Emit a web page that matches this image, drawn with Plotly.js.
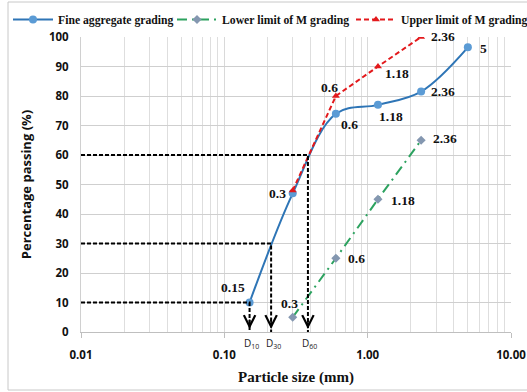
<!DOCTYPE html>
<html>
<head>
<meta charset="utf-8">
<script src="https://cdn.plot.ly/plotly-3.0.1.min.js"></script>
<style>html,body{margin:0;padding:0;background:#fff;}#chart{width:527px;height:392px;}</style>
</head>
<body>
<div id="chart"></div>
<script>
// ---- data ----
const fineSizes = [0.15, 0.3, 0.6, 1.18, 2.36, 5];
const fineVals = [10, 47, 74, 77, 81.5, 96.5];
const fineLabels = ['0.15', '0.3', '0.6', '1.18', '2.36', '5'];

const limitSizes = [0.3, 0.6, 1.18, 2.36];
const lowerVals = [5, 25, 45, 65];
const upperVals = [48, 80, 90, 100];
const limitLabels = ['0.3', '0.6', '1.18', '2.36'];
const upperLabelShow = [false, true, true, true];

const dNames = ['10', '30', '60'];
const dSizes = [0.15, 0.212, 0.383];
const dPercents = [10, 30, 60];

const xTickVals = [0.01, 0.1, 1, 10];
const xTickText = ['0.01', '0.10', '1.00', '10.00'];
const yTickVals = [0, 10, 20, 30, 40, 50, 60, 70, 80, 90, 100];

// ---- styles ----
const W = 527, H = 392, ML = 81, MR = 16, MT = 37, MB = 60;
const PW = W - ML - MR, PH = H - MT - MB;
const px2x = p => (p - ML) / PW;
const px2y = p => (H - MB - p) / PH;
const serifBold = {family: 'Liberation Serif', size: 13.5, color: '#111', weight: 'bold'};
const sansBold = {family: 'Open Sans', size: 11.5, color: '#111', weight: 'bold'};

// label offsets (xanchor, xshift, yshift) - style only
const fineOff = [['center', -17, 15], ['right', -5, 0], ['left', 3, -11], ['center', 13, -12], ['left', 8, 0], ['left', 10, -1]];
const lowerOff = [['center', -3, 14], ['left', 10, 0], ['left', 11, -1], ['left', 10, 2]];
const upperOff = [['center', 0, 0], ['center', -6, 9], ['left', 5, -7], ['left', 8, 1]];

const traces = [];
traces.push({
  x: fineSizes, y: fineVals, type: 'scatter', mode: 'lines+markers',
  name: 'Fine aggregate grading', legend: 'legend',
  line: {color: '#2e75b6', width: 2, shape: 'spline', smoothing: 1},
  marker: {symbol: 'circle', size: 8, color: '#5b9bd5'}
});
traces.push({
  x: limitSizes, y: lowerVals, type: 'scatter', mode: 'lines+markers',
  name: 'Lower limit of M grading', legend: 'legend2',
  line: {color: '#2ca25f', width: 2, dash: '10px,5px,2px,5px'},
  marker: {symbol: 'diamond', size: 7, color: '#8497b0'}
});
traces.push({
  x: limitSizes, y: upperVals, type: 'scatter', mode: 'lines+markers',
  name: 'Upper limit of M grading', legend: 'legend3',
  line: {color: '#e3191c', width: 2, dash: '5px,3px'},
  marker: {symbol: 'triangle-up', size: 7, color: '#e3191c'}
});
// D lines
dSizes.forEach((d, i) => {
  traces.push({
    x: [xTickVals[0], d, d], y: [dPercents[i], dPercents[i], 0],
    type: 'scatter', mode: 'lines', showlegend: false, hoverinfo: 'skip',
    line: {color: '#000', width: 2, dash: '4px,2px'}, cliponaxis: false
  });
});

const annotations = [];
function addLabels(xs, ys, labels, offs, show) {
  xs.forEach((x, i) => {
    if (show && !show[i]) return;
    annotations.push({
      x: Math.log10(x), y: ys[i], xref: 'x', yref: 'y', text: labels[i],
      showarrow: false, font: serifBold, xanchor: offs[i][0], yanchor: 'middle',
      xshift: offs[i][1], yshift: offs[i][2]
    });
  });
}
addLabels(fineSizes, fineVals, fineLabels, fineOff);
addLabels(limitSizes, lowerVals, limitLabels, lowerOff);
addLabels(limitSizes, upperVals, limitLabels, upperOff, upperLabelShow);

dSizes.forEach((d, i) => {
  annotations.push({
    x: Math.log10(d), y: 0, xref: 'x', yref: 'y', text: '',
    showarrow: true, ax: 0, ay: -14, arrowhead: 5, arrowsize: 1.4, arrowwidth: 1.6,
    arrowcolor: '#000', standoff: 3
  });
  annotations.push({
    x: Math.log10(d), y: 0, xref: 'x', yref: 'y', text: 'D<sub>' + dNames[i] + '</sub>',
    showarrow: false, font: {family: 'Open Sans', size: 10, color: '#222'},
    xanchor: 'center', yanchor: 'middle', xshift: 2, yshift: -11
  });
});

const legFont = {family: 'Liberation Serif', size: 11.7, color: '#111', weight: 'bold'};
const legBase = {orientation: 'h', xanchor: 'left', yanchor: 'top', font: legFont,
  bgcolor: 'rgba(0,0,0,0)', borderwidth: 0, itemwidth: 40, y: px2y(5)};

const layout = {
  width: W, height: H,
  margin: {l: ML, r: MR, t: MT, b: MB, pad: 0, autoexpand: false},
  paper_bgcolor: '#fff', plot_bgcolor: '#fff',
  showlegend: true,
  legend: Object.assign({}, legBase, {x: px2x(8)}),
  legend2: Object.assign({}, legBase, {x: px2x(172)}),
  legend3: Object.assign({}, legBase, {x: px2x(351)}),
  xaxis: {
    type: 'log', range: [-2, 1], tickvals: xTickVals, ticktext: xTickText,
    showgrid: true, gridcolor: '#d9d9d9', gridwidth: 1,
    minor: {dtick: 'D1', showgrid: true, gridcolor: '#dedede', gridwidth: 1, ticks: ''},
    showline: true, linecolor: '#bfbfbf', linewidth: 1,
    ticks: 'outside', ticklen: 5, tickcolor: '#bfbfbf', ticklabelstandoff: 7,
    tickfont: sansBold, zeroline: false, automargin: false,
    title: {text: 'Particle size (mm)', font: {family: 'Liberation Serif', size: 15, color: '#111', weight: 'bold'}, standoff: 10}
  },
  yaxis: {
    range: [0, 100], tickvals: yTickVals, showgrid: true, gridcolor: '#cfcfcf', gridwidth: 1,
    showline: true, linecolor: '#d0d0d0', zeroline: false, ticks: '',
    tickfont: sansBold, ticklabelstandoff: 9, automargin: false,
    title: {text: 'Percentage passing (%)', font: {family: 'Open Sans', size: 13, color: '#111', weight: 'bold'}, standoff: 14}
  },
  annotations: annotations,
  shapes: [{
    type: 'rect', xref: 'paper', yref: 'paper', layer: 'below',
    x0: px2x(8), x1: px2x(535), y0: px2y(390), y1: px2y(2),
    line: {color: '#c8c8c8', width: 1}
  }]
};

Plotly.newPlot('chart', traces, layout, {displayModeBar: false, staticPlot: true});
</script>
</body>
</html>
